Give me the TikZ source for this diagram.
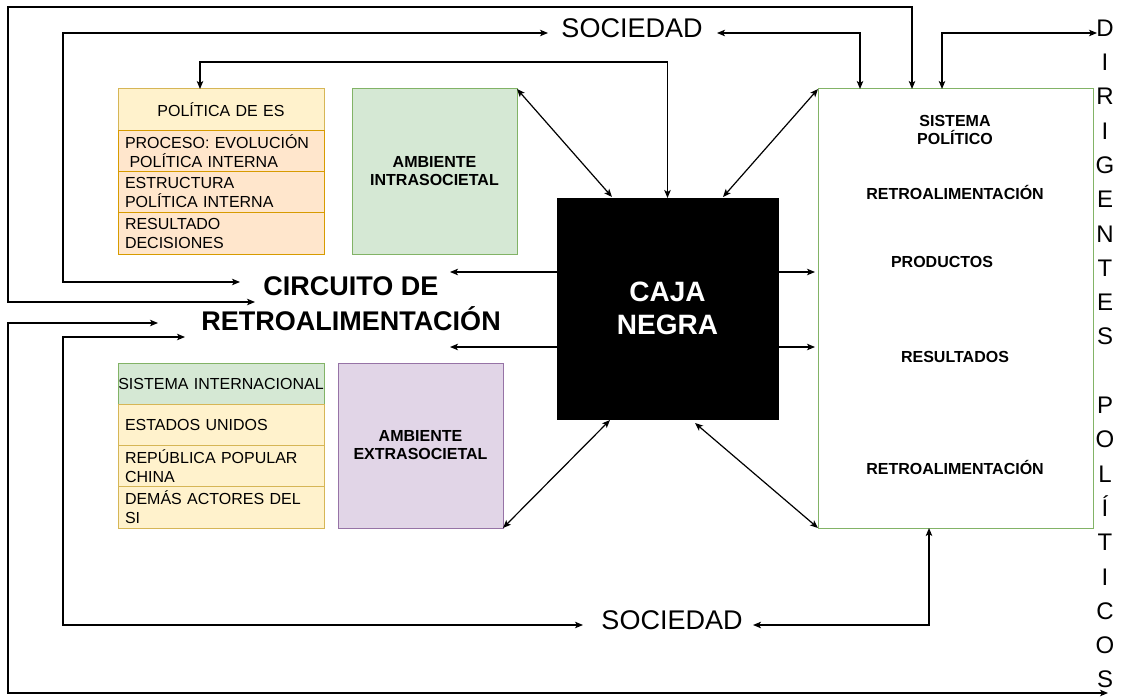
\documentclass[tikz,border=0pt]{standalone}
\usepackage{fontspec}
\setmainfont{Liberation Sans}
\usetikzlibrary{arrows.meta, positioning}

\definecolor{amarillo}{HTML}{FFF2CC}
\definecolor{amarilloborde}{HTML}{D6B656}
\definecolor{naranja}{HTML}{FFE6CC}
\definecolor{naranjaborde}{HTML}{D79B00}
\definecolor{verde}{HTML}{D5E8D4}
\definecolor{verdeborde}{HTML}{82B366}
\definecolor{lila}{HTML}{E1D5E7}
\definecolor{lilaborde}{HTML}{9673A6}

\begin{document}
\begin{tikzpicture}[
        x=1pt, y=-1pt,
        >={Stealth[length=8pt, width=6.5pt, inset=2pt]},
        box/.style={rectangle, draw, line width=1pt, inner sep=0pt, outer sep=0pt},
        tabhead/.style={box, minimum height=41.25pt, text width=206pt, align=center, font=\fontsize{16}{19}\selectfont},
        tabrow/.style={box, minimum height=41.25pt, inner xsep=7pt, text width=192pt, align=left, font=\fontsize{16}{19}\selectfont},
        polhead/.style={tabhead, fill=amarillo, draw=amarilloborde},
        polrow/.style={tabrow, fill=naranja, draw=naranjaborde},
        sihead/.style={tabhead, fill=verde, draw=verdeborde},
        sirow/.style={tabrow, fill=amarillo, draw=amarilloborde},
        ambbox/.style={box, minimum width=165pt, minimum height=165pt, align=center, font=\fontsize{16}{18}\selectfont\bfseries},
        cajabox/.style={box, fill=black, minimum width=221pt, minimum height=221pt, align=center, text=white, font=\fontsize{28}{33}\selectfont\bfseries},
        sisbox/.style={box, fill=white, draw=verdeborde, minimum width=275pt, minimum height=439pt},
        sistxt/.style={align=center, font=\fontsize{16}{18}\selectfont\bfseries},
        circtxt/.style={align=center, font=\fontsize{27}{35}\selectfont\bfseries},
        soctxt/.style={font=\fontsize{27}{30}\selectfont},
        dirtxt/.style={align=center, font=\fontsize{24}{34.3}\selectfont},
        conn/.style={line width=1.2pt}
    ]
    \useasboundingbox[fill=white] (0,0) rectangle (1147,698);

    % --- Tablas ---
    \node[polhead, anchor=north west] (polhead) at (118,89) {POLÍTICA DE ES};
    \node[polrow, below=0pt of polhead] (polproc) {PROCESO: EVOLUCIÓN\\\hspace*{4.5pt}POLÍTICA INTERNA};
    \node[polrow, below=0pt of polproc] (polestr) {ESTRUCTURA\\POLÍTICA INTERNA};
    \node[polrow, below=0pt of polestr] (polres) {RESULTADO\\DECISIONES};

    \node[sihead, anchor=north west] (sihead) at (118,363) {SISTEMA INTERNACIONAL};
    \node[sirow, below=0pt of sihead] (sieeuu) {ESTADOS UNIDOS};
    \node[sirow, below=0pt of sieeuu] (sichina) {REPÚBLICA POPULAR\\CHINA};
    \node[sirow, below=0pt of sichina] (sidemas) {DEMÁS ACTORES DEL\\SI};

    % --- Ambientes ---
    \node[ambbox, fill=verde, draw=verdeborde, anchor=north west] (intra) at (352,89) {AMBIENTE\\INTRASOCIETAL};
    \node[ambbox, fill=lila, draw=lilaborde, anchor=north west] (extra) at (338,363) {AMBIENTE\\EXTRASOCIETAL};

    % --- Caja negra y sistema politico ---
    \node[cajabox, anchor=north west] (caja) at (557,198) {CAJA\\NEGRA};
    \node[sisbox, anchor=north west] (sis) at (818,89) {};
    \node[sistxt] (sisnom) at (955,130) {SISTEMA\\POLÍTICO};
    \node[sistxt] (sisret1) at (955,192) {RETROALIMENTACIÓN};
    \node[sistxt] (sisprod) at (942,262) {PRODUCTOS};
    \node[sistxt] (sisres) at (955,357) {RESULTADOS};
    \node[sistxt] (sisret2) at (955,467) {RETROALIMENTACIÓN};

    % --- Textos sueltos ---
    \node[circtxt] (circ) at (351,304) {CIRCUITO DE\\RETROALIMENTACIÓN};
    \node[soctxt] (soctop) at (632,28) {SOCIEDAD};
    \node[soctxt] (socbot) at (672,620) {SOCIEDAD};
    \node[dirtxt] (dir) at (1105,354) {D\\I\\R\\I\\G\\E\\N\\T\\E\\S\\[34.3pt]P\\O\\L\\Í\\T\\I\\C\\O\\S};

    % puntas libres
    \coordinate (cin1) at (240,282);
    \coordinate (cin2) at (255,302);
    \coordinate (cin3) at (158,323);
    \coordinate (cin4) at (185,337);
    \coordinate (cout1) at (450,272);
    \coordinate (cout2) at (450,347);
    \coordinate (socin) at (548,33);
    \coordinate (socout) at (717,33);
    \coordinate (socbin) at (583,625);
    \coordinate (socbout) at (753,625);
    \coordinate (dirin) at (1097,33);
    \coordinate (dirout) at (1108,693);

    % --- Lazos de retroalimentacion ---
    \draw[conn, <->] (cin2) -| (8,7) -| ([xshift=94pt]sis.north west);
    \draw[conn, <->] (cin1) -| (63,33) -- (socin);
    \draw[conn, <->] (socout) -| ([xshift=42pt]sis.north west);
    \draw[conn, <->] ([xshift=124pt]sis.north west) |- (dirin);
    \draw[conn, <->] ([xshift=82pt]polhead.north west) |- (caja.north |- 0,62) -- (caja.north);
    \draw[conn, <->] (cin3) -| (8,693) -- (dirout);
    \draw[conn, <->] (cin4) -| (63,625) -- (socbin);
    \draw[conn, <->] (socbout) -| ([xshift=111pt]sis.south west);

    % --- Salidas de la caja ---
    \draw[conn, ->] (caja.west |- cout1) -- (cout1);
    \draw[conn, ->] (caja.west |- cout2) -- (cout2);
    \draw[conn, ->] (caja.east |- cout1) -- ([xshift=-3pt]sis.west |- cout1);
    \draw[conn, ->] (caja.east |- cout2) -- ([xshift=-3pt]sis.west |- cout2);

    % diagonales
    \draw[conn, <->] (intra.north east) -- ([xshift=55pt, yshift=1pt]caja.north west);
    \draw[conn, <->] (sis.north west) -- ([xshift=-55pt, yshift=1pt]caja.north east);
    \draw[conn, <->] (extra.south east) -- ([xshift=53pt, yshift=-1pt]caja.south west);
    \draw[conn, <->] (sis.south west) -- ([xshift=138pt, yshift=-4pt]caja.south west);
\end{tikzpicture}
\end{document}
